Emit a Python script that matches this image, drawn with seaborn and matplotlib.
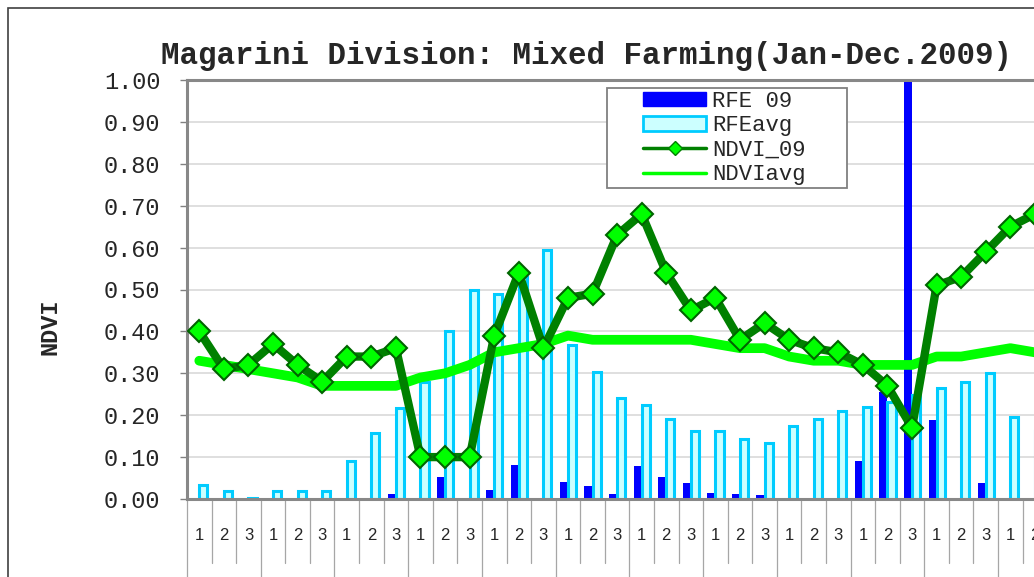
import numpy as np
import pandas as pd
import matplotlib
matplotlib.use("Agg")
import matplotlib.pyplot as plt
import matplotlib.transforms as mtransforms
from matplotlib.patches import Patch, Rectangle
from matplotlib.lines import Line2D
from matplotlib.ticker import FormatStrFormatter
import seaborn as sns

# dekads of 2009 (3 per month)
dekads = ["1", "2", "3"] * 12
slots = list(range(36))

rfe_09 = [0, 0, 0, 0, 0, 0, 0, 0, 0.012, 0, 0.052, 0,
          0.021, 0.081, 0, 0.041, 0.031, 0.012, 0.079, 0.052, 0.038, 0.014, 0.012, 0.010,
          0, 0, 0, 0.090, 0.256, 1.20, 0.188, 0, 0.038, 0, 0, 0]
rfe_avg = [0.033, 0.019, 0.003, 0.019, 0.019, 0.019, 0.091, 0.157, 0.217, 0.28, 0.40, 0.50,
           0.49, 0.53, 0.594, 0.367, 0.303, 0.24, 0.224, 0.19, 0.162, 0.162, 0.143, 0.133,
           0.174, 0.19, 0.21, 0.22, 0.231, 0.248, 0.265, 0.28, 0.30, 0.196, 0.162, 0.12]
ndvi_09 = [0.40, 0.31, 0.32, 0.37, 0.32, 0.28, 0.34, 0.34, 0.36, 0.10, 0.10, 0.10,
           0.39, 0.54, 0.36, 0.48, 0.49, 0.63, 0.68, 0.54, 0.45, 0.48, 0.38, 0.42,
           0.38, 0.36, 0.35, 0.32, 0.27, 0.17, 0.51, 0.53, 0.59, 0.65, 0.68, 0.70]
ndvi_avg = [0.33, 0.32, 0.31, 0.30, 0.29, 0.27, 0.27, 0.27, 0.27, 0.29, 0.30, 0.32,
            0.35, 0.36, 0.37, 0.39, 0.38, 0.38, 0.38, 0.38, 0.38, 0.37, 0.36, 0.36,
            0.34, 0.33, 0.33, 0.32, 0.32, 0.32, 0.34, 0.34, 0.35, 0.36, 0.35, 0.34]

sns.set_style("white")
plt.rcParams['font.family'] = ['Liberation Mono', 'DejaVu Sans']

W, H = 1034, 577
fig = plt.figure(figsize=(W / 100, H / 100), dpi=100)
# plot area runs past the right edge, like the cropped original
ax = fig.add_axes([187 / W, (H - 499) / H, 884.8 / W, 419 / H])

bars = pd.DataFrame({
    "slot": slots * 2,
    "value": rfe_09 + rfe_avg,
    "series": ["RFE 09"] * 36 + ["RFEavg"] * 36,
})
sns.barplot(data=bars, x="slot", y="value", hue="series", hue_order=["RFE 09", "RFEavg"],
            palette={"RFE 09": "#0000FF", "RFEavg": "#CCFFFF"}, saturation=1,
            width=0.66, legend=False, ax=ax, zorder=2)
for p in ax.containers[0].patches:
    p.set_edgecolor("none")
for p in ax.containers[1].patches:
    p.set_edgecolor("#00CCFF")
    p.set_linewidth(2.2)

sns.lineplot(x=slots, y=ndvi_avg, color="#00FF00", linewidth=7, ax=ax, zorder=4, legend=False)
sns.lineplot(x=slots, y=ndvi_09, color="#008000", linewidth=6, marker="D", markersize=11,
             markerfacecolor="#00FF00", markeredgecolor="#006400", markeredgewidth=1.5,
             ax=ax, zorder=5, legend=False)

ax.set_xlim(-0.5, 35.5)
ax.set_ylim(0, 1.0)
ax.set_yticks(np.arange(0, 1.01, 0.1))
ax.yaxis.set_major_formatter(FormatStrFormatter('%.2f'))
ax.set_xticks(slots)
ax.set_xticklabels(dekads)
ax.set_xlabel("")
ax.set_ylabel("")
for t in ax.get_xticklabels():
    t.set_fontfamily("Liberation Sans")
    t.set_fontsize(12)
for t in ax.get_yticklabels():
    t.set_fontfamily("Liberation Mono")
    t.set_fontsize(17)
ax.tick_params(axis="x", length=0, pad=21)
ax.tick_params(axis="y", length=5, width=1, color="#808080", pad=14, left=True)
ax.yaxis.grid(True, color="#D9D9D9", linewidth=1.2)
ax.set_axisbelow(True)
for s in ax.spines.values():
    s.set_color("#888888")
    s.set_linewidth(2.2)

# dekad / month separators under the axis
trans = mtransforms.blended_transform_factory(ax.transData, ax.transAxes)
for i in range(37):
    y1 = -0.2 if i % 3 == 0 else -0.153
    ax.plot([i - 0.5, i - 0.5], [0, y1], transform=trans, color="#A6A6A6",
            lw=0.9, clip_on=False)

fig.text(161 / W, 1 - 64 / H, "Magarini Division: Mixed Farming(Jan-Dec.2009)",
         fontfamily="Liberation Mono", fontweight="bold", fontsize=22.2,
         ha="left", va="baseline")
fig.text(50 / W, 1 - 327 / H, "NDVI", rotation=90, fontfamily="Liberation Mono",
         fontweight="bold", fontsize=17, ha="center", va="center")

# legend box
fig.patches.append(Rectangle((607 / W, 1 - 188 / H), 240 / W, 100 / H,
                             transform=fig.transFigure, facecolor="white",
                             edgecolor="#808080", lw=1.3))
handles = [
    Patch(facecolor="#0000FF", edgecolor="#0000FF"),
    Patch(facecolor="#CCFFFF", edgecolor="#00CCFF", lw=2),
    Line2D([], [], color="#008000", lw=2.5, marker="D", ms=7,
           markerfacecolor="#00FF00", markeredgecolor="#008000"),
    Line2D([], [], color="#00FF00", lw=2.5),
]
fig.legend(handles, ["RFE 09", "RFEavg", "NDVI_09", "NDVIavg"], loc="upper left",
           bbox_to_anchor=(643 / W, 1 - 91 / H), frameon=False, borderpad=0,
           borderaxespad=0, handlelength=2.84, handletextpad=0.27, handleheight=0.6,
           labelspacing=0.15, prop={"family": "Liberation Mono", "size": 16})

# outer chart border
fig.patches.append(Rectangle((8 / W, -0.1), 2, 1.1 - 8 / H, transform=fig.transFigure,
                             fill=False, edgecolor="#404040", lw=1.2))

fig.savefig("out.png", dpi=100)
